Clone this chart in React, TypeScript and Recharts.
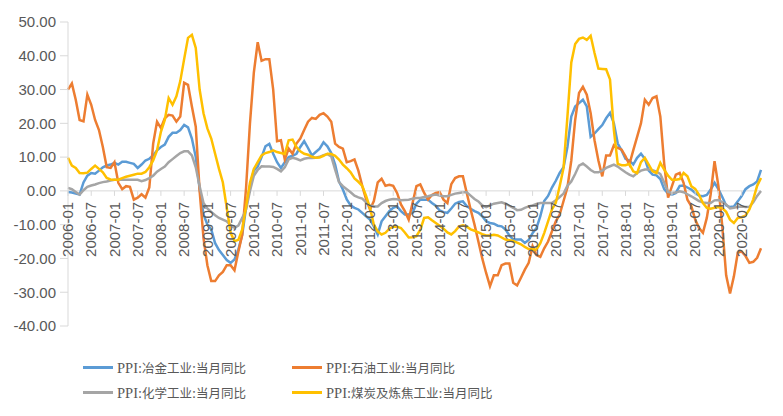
import { LineChart, Line, XAxis, YAxis, ReferenceLine } from 'recharts'

// 2006-01 .. 2020-12
const months: string[] = []
for (let y = 2006; y <= 2020; y++) {
  for (let m = 1; m <= 12; m++) months.push(`${y}-${String(m).padStart(2, '0')}`)
}

const yTicks = [-40, -30, -20, -10, 0, 10, 20, 30, 40, 50]

// PPI:冶金工业:当月同比
const metallurgy = [
  -0.3, -0.5, -0.8, -1.1, 2.5, 4.5, 5.3, 5.1, 6, 7, 7.5, 7.8,
  8.3, 7.8, 8.6, 8.6, 8.3, 8, 6.8, 7.8, 9, 9.5, 10.5, 12,
  13, 13.7, 16, 17.2, 17.2, 18, 19.5, 18.8, 15.5, 10, 0.5, -7,
  -10, -11.4, -15.5, -17.5, -19, -20.5, -21.3, -20.3, -17.4, -13, -5, 1.5,
  6, 7.2, 10, 13.2, 13.9, 11, 8.5, 6.8, 8.5, 10, 10.4, 11,
  13, 14.7, 12.7, 10.5, 11.5, 12.5, 14.4, 13.2, 11.2, 7.8, 2.8, 0.4,
  -2.5, -4.3, -5, -5.5, -6.5, -7.5, -8.5, -10.5, -12.9, -9, -7.5, -6,
  -5, -4.6, -6, -7, -7, -6.5, -3.8, -2.6, -2.6, -2.6, -3.6, -4.4,
  -5.8, -6.3, -6.5, -5.2, -3.8, -3.3, -3.1, -4.5, -5.3, -6, -6.5, -7.5,
  -9, -9.5, -9.7, -10.3, -10.5, -11.4, -13.2, -14.4, -14.4, -14.4, -15.4, -14.5,
  -12.5, -11, -7.5, -3, -1.5, 1, 3, 5.3, 7, 13, 22, 25,
  26, 27, 25, 16, 17, 18.3, 19.5, 21.5, 23.1, 20, 14, 12,
  9.5, 9, 7.8, 9.8, 11, 9.5, 6, 4.8, 4.6, 3.5, 0.5, -0.8,
  -1.1, -0.6, 1.5, 1.6, 1, 0.4, -0.6, -1.4, -1.6, -1.2, 0.4, 2.4,
  0.5, -1.8, -4.3, -4.8, -4.6, -3.1, -1.5, 0.5, 1.4, 1.9, 2.8, 6.2,
]

// PPI:石油工业:当月同比
const petroleum = [
  30, 31.8, 27, 21, 20.6, 28.5, 25.5, 21, 18, 13, 7, 6.8,
  8.5, 2.4, 0.5, 1.4, 1.2, -2.6, -2, -1, -2, 1, 14, 20.5,
  18.6, 21.5, 22.5, 22.3, 20.5, 22, 32, 31.4, 25, 19, 0, -14,
  -22, -26.7, -26.7, -25, -24, -22, -22, -23.5, -18, -13, 1, 20,
  35, 44, 38.5, 39, 39, 30, 14.7, 15, 9.3, 12.5, 11, 14,
  15.5, 18, 20.5, 21.6, 21.3, 22.5, 23, 22, 20.5, 14, 13, 12.5,
  8.5, 8.8, 9.3, 6, 1.5, -2.5, -5.5, -3, 2.5, 3.6, 1.5, 1.8,
  1.5, -0.6, -4, -6, -8.5, -3.6, 1.4, 1.9, -0.6, -2.6, -1.2, -0.6,
  -0.4, -2.6, -3.6, 2, 3.8, 4.3, 4.3, -0.6, -5.5, -10, -15, -20,
  -24.3, -28.2, -25, -25, -22, -21.5, -21.5, -27.2, -28, -25.7, -23.3, -21.3,
  -16.4, -19, -19.5, -17, -15, -12, -9, -7, -3, 1, 9, 21,
  29, 30.8, 28.5, 23, 15, 9, 4.3, 10.5, 10.5, 13.5, 12.7, 12.2,
  10.2, 7.8, 12, 16, 20, 27, 25.5, 27.5, 28, 22, 8, -2,
  1.4, 4.8, 5.3, 2.4, -2.6, -4.5, -8.5, -11, -12.4, -8, -1, 8.8,
  1.4, -10.5, -25, -30.4, -25.3, -18.3, -17.9, -19.3, -21.3, -21, -19.8, -17,
]

// PPI:化学工业:当月同比
const chemical = [
  0.9, 0.5, -0.3, -1.1, 0.2, 1.2, 1.6, 1.9, 2.3, 2.6, 2.8, 3.1,
  3.3, 3.3, 3.3, 3.3, 3.3, 3.3, 3.3, 2.9, 3.2, 3.8, 4.5, 5.7,
  6.5, 7.2, 8.5, 9.4, 10.3, 11.2, 11.7, 11.7, 10.5, 7, 1.4, -3.6,
  -5.2, -6.2, -7.2, -8, -8.5, -9, -10.2, -10.9, -10.3, -8, -5.5, 0,
  4.5, 6.2, 7.3, 7.2, 7.2, 7.1, 6.5, 5.8, 7, 9.3, 9.8, 9.5,
  9, 9.5, 9.7, 9.7, 9.8, 10.1, 10.6, 10.9, 10.2, 6.3, 2.6, 1.4,
  0.5, -0.4, -1.4, -1.9, -2.3, -3.4, -4.3, -4.6, -4.6, -3.6, -3, -2.6,
  -2.4, -2.5, -2.8, -2.7, -2.6, -2.3, -2.1, -2.1, -1.8, -1.6, -1.3, -1.1,
  -1.4, -1.6, -1.6, -1.2, -0.8, -0.6, -0.4, -0.4, -1.4, -2.4, -3.1, -4.3,
  -4.8, -4.3, -3.8, -3.6, -3.4, -3.8, -4.4, -5, -5.7, -5.6, -5, -4.6,
  -4.3, -3.9, -3.6, -3.6, -3.6, -3.6, -2.8, -1.8, -0.8, 1.5, 2.8, 5,
  7.5, 8.1, 7.2, 6.2, 5.5, 5.5, 6, 6.8, 7.3, 7.8, 7.2, 6.3,
  5.5, 4.8, 4.3, 5.3, 6, 6.3, 6.3, 6.1, 5.7, 5, 2.5, -0.3,
  -0.6, -0.5, -0.1, -0.4, -1, -1.6, -2.3, -3, -3.4, -3.6, -3.6, -2.8,
  -2.7, -3.3, -4, -5.2, -5, -4.7, -4.6, -4.8, -4.7, -3.4, -1.5, 0,
]

// PPI:煤炭及炼焦工业:当月同比
const coal = [
  9.8, 7.5, 6.8, 5.3, 5.2, 5.4, 6.5, 7.5, 6.5, 5.5, 3.8, 3.4,
  3.3, 3.3, 3.8, 4.2, 4.5, 4.8, 5.1, 5.1, 5.6, 7, 9, 12,
  17.5, 21, 27.5, 25.5, 28, 32.5, 39, 45.3, 46.2, 42.3, 30, 23,
  18.5, 15.5, 11, 6.5, 2.5, -5, -12.4, -14.9, -14.5, -11.4, -4.6, 2.4,
  6.5, 8.5, 10.5, 11.2, 11.5, 12, 11.5, 11.2, 10.9, 15, 15.2, 13,
  11.7, 11, 10.7, 10.1, 9.8, 9.9, 10.4, 11, 10.9, 10.4, 9.3, 7.8,
  6.7, 5.5, 3.7, 2.7, 1.5, -1.5, -5, -10, -12, -12.9, -12.4, -11.2,
  -10.6, -10.6, -11, -12.3, -13.8, -13.7, -13.4, -11.5, -8, -7.8, -8.7, -9.5,
  -10.3, -11.2, -12.3, -12.9, -11.9, -10.5, -10.2, -10.6, -11.4, -11.8, -12.3, -12.8,
  -13.2, -13.2, -13, -13.2, -13.8, -14.4, -14.6, -14.8, -15.3, -15.8, -16.6, -17.2,
  -17.3, -17.4, -15.5, -12.5, -9, -5.5, -3.5, 1.4, 6.8, 22, 38, 43.5,
  45, 45.4, 44.7, 45.9, 40.8, 36.2, 36.1, 36, 33, 18, 8, 7.6,
  7.6, 8, 5.8, 5.3, 8.5, 9.8, 7.8, 5.8, 5.3, 8.3, 6.3, 4.5,
  3.3, 3.3, 3.5, 5.3, 4.3, 1.4, 0.6, -1.2, -3.6, -5, -5.3, -5,
  -4.8, -5.1, -6.2, -8.5, -9.5, -8, -7.8, -7.3, -5.5, -2.5, 1.5, 3.8,
]

const series = [
  { key: 'metallurgy', name: 'PPI:冶金工业:当月同比', color: '#5B9BD5', values: metallurgy },
  { key: 'petroleum', name: 'PPI:石油工业:当月同比', color: '#ED7D31', values: petroleum },
  { key: 'chemical', name: 'PPI:化学工业:当月同比', color: '#A5A5A5', values: chemical },
  { key: 'coal', name: 'PPI:煤炭及炼焦工业:当月同比', color: '#FFC000', values: coal },
]

const data = months.map((month, i) => {
  const row: Record<string, string | number> = { month }
  series.forEach((s) => {
    row[s.key] = s.values[i]
  })
  return row
})

const W = 775
const H = 400
const PLOT_TOP = 14
const PLOT_BOTTOM = 318
const Y_MIN = -40
const Y_MAX = 50
// x axis labels sit on the zero line, not at the bottom
const ZERO_Y = PLOT_TOP + ((PLOT_BOTTOM - PLOT_TOP) * Y_MAX) / (Y_MAX - Y_MIN)

const AXIS_COLOR = '#D9D9D9'
const TEXT_COLOR = '#595959'
const FONT = '"Liberation Sans", Arial, sans-serif'

function MonthTick(props: any) {
  const { x, payload } = props
  const ty = ZERO_Y + 11
  return (
    <g>
      <line x1={x} x2={x} y1={ZERO_Y} y2={ZERO_Y + 5} stroke={AXIS_COLOR} />
      <text
        x={x}
        y={ty}
        dy="0.35em"
        transform={`rotate(-90 ${x} ${ty})`}
        textAnchor="end"
        fill={TEXT_COLOR}
        fontSize={15}
        fontFamily={FONT}
      >
        {payload.value}
      </text>
    </g>
  )
}

const legendPos = [
  { left: 75, top: 359 },
  { left: 284, top: 359 },
  { left: 75, top: 384 },
  { left: 284, top: 384 },
]

// latin parts of the legend are a little larger than the CJK ones
function LegendLabel({ text }: { text: string }) {
  const parts = text.split(/([A-Za-z:]+)/).filter(Boolean)
  return (
    <span style={{ color: TEXT_COLOR, fontFamily: '"Liberation Serif", "Noto Sans CJK SC", serif' }}>
      {parts.map((p, i) => (
        <span key={i} style={{ fontSize: /[A-Za-z:]/.test(p) ? 14.5 : 12.5 }}>
          {p}
        </span>
      ))}
    </span>
  )
}

export default function App() {
  return (
    <div style={{ position: 'relative', width: W, height: H }}>
      <LineChart width={W} height={H} data={data} margin={{ top: PLOT_TOP, right: 22, left: 0, bottom: H - PLOT_BOTTOM - 1 }}>
        <XAxis
          dataKey="month"
          interval={5}
          height={1}
          axisLine={false}
          tickLine={false}
          tick={<MonthTick />}
          padding={{ left: 0, right: 0 }}
        />
        <YAxis
          width={60}
          domain={[Y_MIN, Y_MAX]}
          ticks={yTicks}
          tickFormatter={(v: number) => v.toFixed(2)}
          axisLine={{ stroke: AXIS_COLOR }}
          tickLine={{ stroke: AXIS_COLOR }}
          tickSize={8}
          tickMargin={4}
          tick={{ fill: TEXT_COLOR, fontSize: 15, fontFamily: FONT }}
          allowDataOverflow
        />
        <ReferenceLine y={0} stroke={AXIS_COLOR} />
        {series.map((s) => (
          <Line
            key={s.key}
            dataKey={s.key}
            name={s.name}
            stroke={s.color}
            strokeWidth={2.5}
            dot={false}
            activeDot={false}
            type="linear"
            isAnimationActive={false}
          />
        ))}
      </LineChart>
      {series.map((s, i) => (
        <div
          key={s.key}
          style={{
            position: 'absolute',
            left: legendPos[i].left,
            top: legendPos[i].top - 10,
            height: 20,
            display: 'flex',
            alignItems: 'center',
            whiteSpace: 'nowrap',
          }}
        >
          <span style={{ display: 'inline-block', width: 30, height: 3, background: s.color, marginRight: 4 }} />
          <LegendLabel text={s.name} />
        </div>
      ))}
    </div>
  )
}
